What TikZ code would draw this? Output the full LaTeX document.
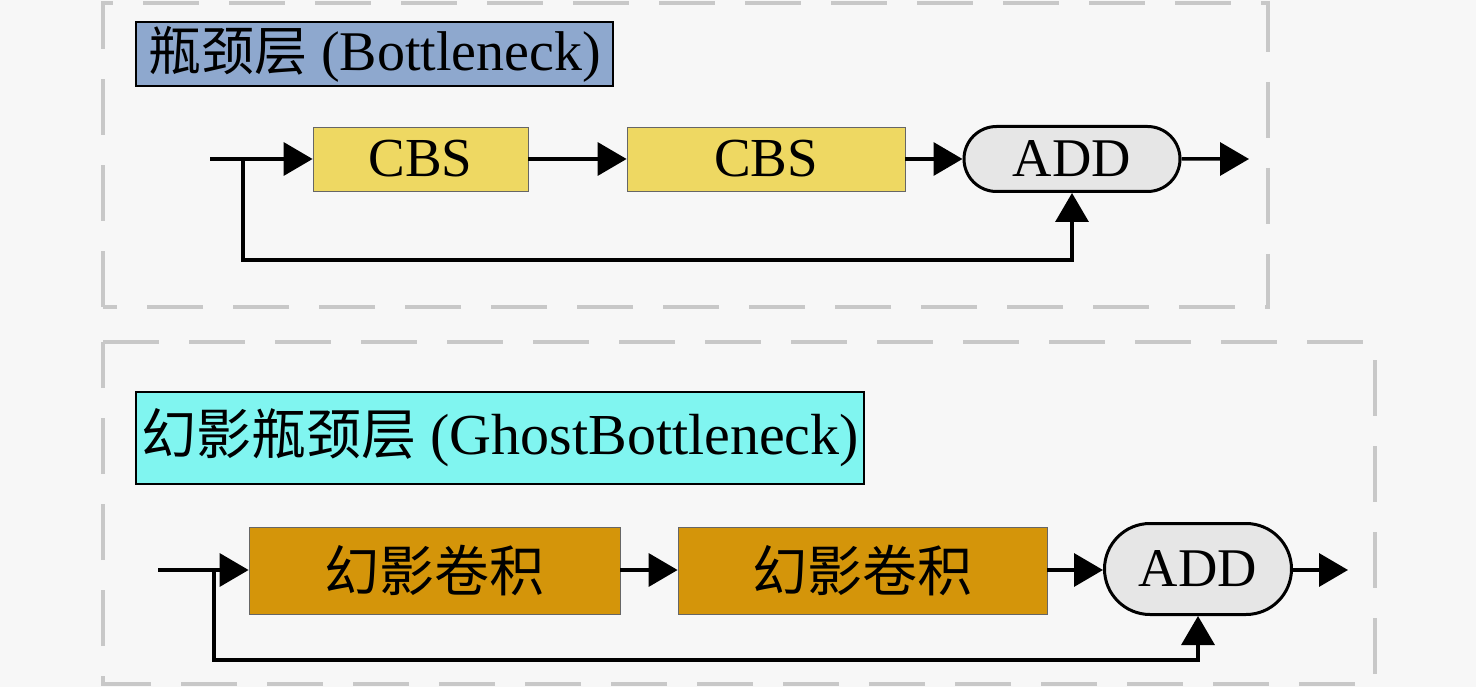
\documentclass[tikz,border=0pt]{standalone}
\usepackage{fontspec}
\setmainfont{Liberation Serif}
\newfontfamily\cjk{Noto Sans CJK SC}
\usetikzlibrary{arrows.meta,shapes.misc}
\definecolor{bgc}{HTML}{F7F7F7}
\definecolor{dashc}{HTML}{C8C8C8}
\definecolor{titleA}{HTML}{8EA8CE}
\definecolor{titleB}{HTML}{80F5F0}
\definecolor{cbsc}{HTML}{EED862}
\definecolor{ghostc}{HTML}{D4950A}
\definecolor{addc}{HTML}{E6E6E6}
\tikzset{
  frame/.style={draw=dashc,line width=4.5pt,dash pattern=on 56pt off 30pt},
  titlebox/.style={draw=black,line width=1.5pt,inner sep=0pt},
  blockbox/.style={draw=black!60,line width=0.8pt,inner sep=0pt},
  addbox/.style={rounded rectangle,draw=black,line width=3pt,fill=addc,inner sep=0pt,font=\fontsize{54.5}{60}\selectfont},
  conn/.style={line width=3.5pt,-{Triangle[length=29pt,width=33pt]}}
}
\begin{document}
\begin{tikzpicture}[x=1pt,y=-1pt]
\fill[bgc] (0,0) rectangle (1476,687);
\useasboundingbox (0,0) rectangle (1476,687);
% frames
\draw[frame] (103,307) -- (103,3) -- (1268,3) -- (1268,307) -- cycle;
\draw[frame] (103,342) -- (1375,342) -- (1375,684) -- (103,684) -- cycle;
% titles
\node[titlebox,fill=titleA,minimum width=477pt,minimum height=64pt,font=\fontsize{56}{60}\selectfont] (t1) at (374.5,54) {{\cjk\fontsize{53}{58}\selectfont 瓶颈层} (Bottleneck)};
\node[titlebox,fill=titleB,minimum width=728pt,minimum height=92pt,font=\fontsize{58}{62}\selectfont] (t2) at (500,438) {{\cjk\fontsize{55}{60}\selectfont 幻影瓶颈层} (GhostBottleneck)};
% top row
\node[blockbox,fill=cbsc,minimum width=215pt,minimum height=64pt,font=\fontsize{55}{60}\selectfont] (c1) at (420.5,159) {CBS};
\node[blockbox,fill=cbsc,minimum width=278pt,minimum height=64pt,font=\fontsize{55}{60}\selectfont] (c2) at (766,159) {CBS};
\node[addbox,minimum width=216pt,minimum height=65pt] (a1) at (1072,159) {ADD};
\coordinate (in1) at (210,159);
\coordinate (br1) at (243,260);
\coordinate (out1) at (1249,159);
\draw[conn] (in1) -- (c1);
\draw[conn] (c1) -- (c2);
\draw[conn] (c2) -- (a1);
\draw[conn] (a1) -- (out1);
\draw[conn] (br1 |- in1) -- (br1) -| (a1.south);
% bottom row
\node[blockbox,fill=ghostc,minimum width=371pt,minimum height=87pt,font=\fontsize{55}{60}\selectfont\cjk] (g1) at (434.5,570.5) {幻影卷积};
\node[blockbox,fill=ghostc,minimum width=369pt,minimum height=87pt,font=\fontsize{55}{60}\selectfont\cjk] (g2) at (862.5,570.5) {幻影卷积};
\node[addbox,minimum width=187pt,minimum height=91pt] (a2) at (1198,569) {ADD};
\coordinate (in2) at (158,570);
\coordinate (br2) at (214,660);
\coordinate (out2) at (1348,570);
\draw[conn] (in2) -- (g1.west |- in2);
\draw[conn] (g1.east |- in2) -- (g2.west |- in2);
\draw[conn] (g2.east |- in2) -- (a2.west |- in2);
\draw[conn] (a2.east |- in2) -- (out2);
\draw[conn] (br2 |- in2) -- (br2) -| (a2.south);
\end{tikzpicture}
\end{document}
